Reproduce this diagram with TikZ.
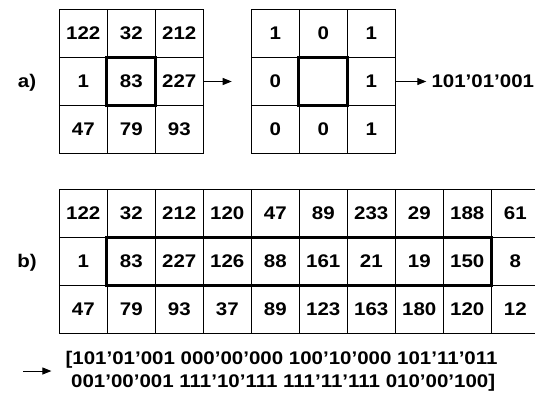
\documentclass[tikz,border=0pt]{standalone}
\usepackage{fontspec}
\setmainfont{Liberation Sans}[FakeStretch=1.12]
\usetikzlibrary{arrows.meta}
\begin{document}
\begin{tikzpicture}[x=1pt,y=-1pt,
  cell/.style={draw,line width=0.9pt,minimum width=48pt,minimum height=48pt,inner sep=0pt,font=\fontsize{18.3}{22}\selectfont\bfseries},
  lbl/.style={inner sep=0pt,font=\fontsize{18.3}{22}\selectfont\bfseries},
  hl/.style={line width=3pt},
  arr/.style={line width=1pt,-{Triangle[length=9pt,width=7pt]}}]
\useasboundingbox (0,0) rectangle (535,392);
\clip (0,0) rectangle (535,392);
% grid a) left
\foreach \r/\row in {1/{122,32,212},2/{1,83,227},3/{47,79,93}}{
  \foreach \v [count=\c] in \row {
    \node[cell] (L-\r-\c) at ({59.3+24+48*(\c-1)},{9.5+24+48*(\r-1)}) {\v};
  }
}
% grid a) right
\foreach \r/\row in {1/{1,0,1},2/{0,{},1},3/{0,0,1}}{
  \foreach \v [count=\c] in \row {
    \node[cell] (R-\r-\c) at ({251.3+24+48*(\c-1)},{9.5+24+48*(\r-1)}) {\v};
  }
}
% grid b)
\foreach \r/\row in {1/{122,32,212,120,47,89,233,29,188,61},2/{1,83,227,126,88,161,21,19,150,8},3/{47,79,93,37,89,123,163,180,120,12}}{
  \foreach \v [count=\c] in \row {
    \node[cell] (B-\r-\c) at ({59.3+24+48*(\c-1)},{189.5+24+48*(\r-1)}) {\v};
  }
}
\draw[hl] (L-2-2.north west) rectangle (L-2-2.south east);
\draw[hl] (R-2-2.north west) rectangle (R-2-2.south east);
\draw[hl] (B-2-2.north west) rectangle (B-2-9.south east);
% labels
\node[lbl] (la) at (27,83) {a)};
\node[lbl] (lb) at (27,263) {b)};
% arrows a)
\coordinate (e1) at (231.7,81.5);
\draw[arr] (L-2-3.east) -- (e1);
\node[lbl,anchor=west] (code) at (431.3,81.5) {101’01’001};
\draw[arr,shorten >=5pt] (R-2-3.east) -- (code.west);
% bottom text
\node[lbl,anchor=base west] (l1) at (65.4,364.5) {[101’01’001 000’00’000 100’10’000 101’11’011};
\node[lbl,anchor=base west] (l2) at (71,387.3) {001’00’001 111’10’111 111’11’111 010’00’100]};
\coordinate (s3) at (23,371);
\draw[arr,shorten >=14pt] (s3) -- (s3 -| l1.west);
\end{tikzpicture}
\end{document}
